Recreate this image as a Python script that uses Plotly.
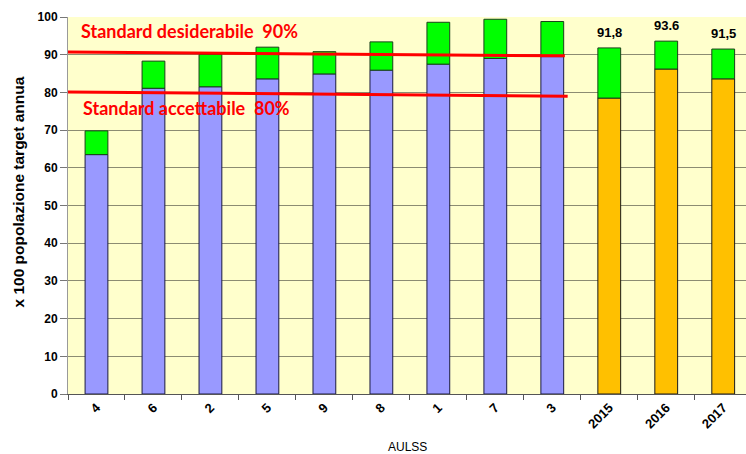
import plotly.graph_objects as go

# AULSS coverage (per 100 target population): base value and additional share
aulss = ["4", "6", "2", "5", "9", "8", "1", "7", "3"]
aulss_base = [63.5, 81.1, 81.5, 83.6, 84.9, 85.9, 87.5, 89.0, 89.5]
aulss_total = [69.8, 88.3, 90.1, 92.0, 90.8, 93.4, 98.6, 99.4, 98.8]

# Regional totals by year
years = ["2015", "2016", "2017"]
year_base = [78.5, 86.2, 83.6]
year_total = [91.8, 93.6, 91.5]
year_labels = ["91,8", "93.6", "91,5"]

categories = aulss + years

BLUE = "#9999FF"
GREEN = "#00FF00"
ORANGE = "#FFC000"
RED = "#FF0000"
BG = "#FFFFCC"
GRID = "#8C8C72"
FONT = "Arial, Liberation Sans"

fig = go.Figure()

fig.add_bar(
    x=aulss, y=aulss_base, marker=dict(color=BLUE, line=dict(color="#1a1a40", width=1)),
    width=0.4, showlegend=False,
)
fig.add_bar(
    x=years, y=year_base, marker=dict(color=ORANGE, line=dict(color="#1a1a1a", width=1)),
    width=0.4, showlegend=False,
)
fig.add_bar(
    x=aulss, y=[t - b for t, b in zip(aulss_total, aulss_base)],
    base=aulss_base,
    marker=dict(color=GREEN, line=dict(color="#1a401a", width=1)),
    width=0.4, showlegend=False,
)
fig.add_bar(
    x=years, y=[t - b for t, b in zip(year_total, year_base)],
    base=year_base,
    marker=dict(color=GREEN, line=dict(color="#1a401a", width=1)),
    width=0.4, showlegend=False,
)

# Value labels above the yearly bars (positioned by category index)
for yr, tot, lab in zip(years, year_total, year_labels):
    fig.add_annotation(x=categories.index(yr), y=tot, xref="x", yref="y",
                       yanchor="bottom", yshift=6,
                       text=f"<b>{lab}</b>", showarrow=False,
                       font=dict(family=FONT, size=13, color="black"))

# Standard thresholds
fig.add_shape(type="line", xref="x", yref="y", x0=-0.5, y0=90.7, x1=8.22, y1=89.7,
              line=dict(color=RED, width=3))
fig.add_shape(type="line", xref="x", yref="y", x0=-0.5, y0=80.1, x1=8.27, y1=79.0,
              line=dict(color=RED, width=3))

fig.add_annotation(x=-0.31, y=96.3, xref="x", yref="y", xanchor="left", yanchor="middle",
                   text="<b>Standard desiderabile  90%</b>", showarrow=False,
                   font=dict(family="Lato", size=18, color=RED))
fig.add_annotation(x=-0.27, y=75.9, xref="x", yref="y", xanchor="left", yanchor="middle",
                   text="<b>Standard accettabile  80%</b>", showarrow=False,
                   font=dict(family="Lato", size=18, color=RED))

# Axis titles
fig.add_annotation(x=(18 - 68) / 678, y=0.5, xref="paper", yref="paper", xanchor="center",
                   yshift=13,
                   text="<b>x 100 popolazione target annua</b>", showarrow=False, textangle=-90,
                   font=dict(family=FONT, size=15.5, color="black"))
fig.add_annotation(x=0.5, y=0, xref="paper", yref="paper", yshift=-62,
                   text="AULSS", showarrow=False,
                   font=dict(family=FONT, size=12, color="black"))

fig.update_layout(
    width=746, height=454,
    margin=dict(l=68, r=0, t=17, b=60),
    barmode="overlay",
    paper_bgcolor="white",
    plot_bgcolor=BG,
    font=dict(family=FONT, size=12, color="black"),
)

fig.update_xaxes(
    type="category", categoryorder="array", categoryarray=categories,
    range=[-0.5, 11.4],
    tickvals=categories, ticktext=[f"<b>{c}</b>" for c in categories],
    tickangle=-45, tickson="boundaries", ticks="outside", ticklen=5, tickcolor="#555",
    showline=True, linecolor="#555", linewidth=1, showgrid=False,
    tickfont=dict(family=FONT, size=13, color="black"),
)
fig.update_yaxes(
    range=[0, 100], dtick=10, ticks="outside", ticklen=7, tickcolor="#777",
    showline=True, linecolor="#999", linewidth=1,
    showgrid=True, gridcolor=GRID, gridwidth=1, zeroline=False,
    tickvals=list(range(0, 101, 10)),
    ticktext=[f"<b>{v}</b>" for v in range(0, 101, 10)],
    tickfont=dict(family=FONT, size=12, color="black"),
)

fig.write_html("out.html")
